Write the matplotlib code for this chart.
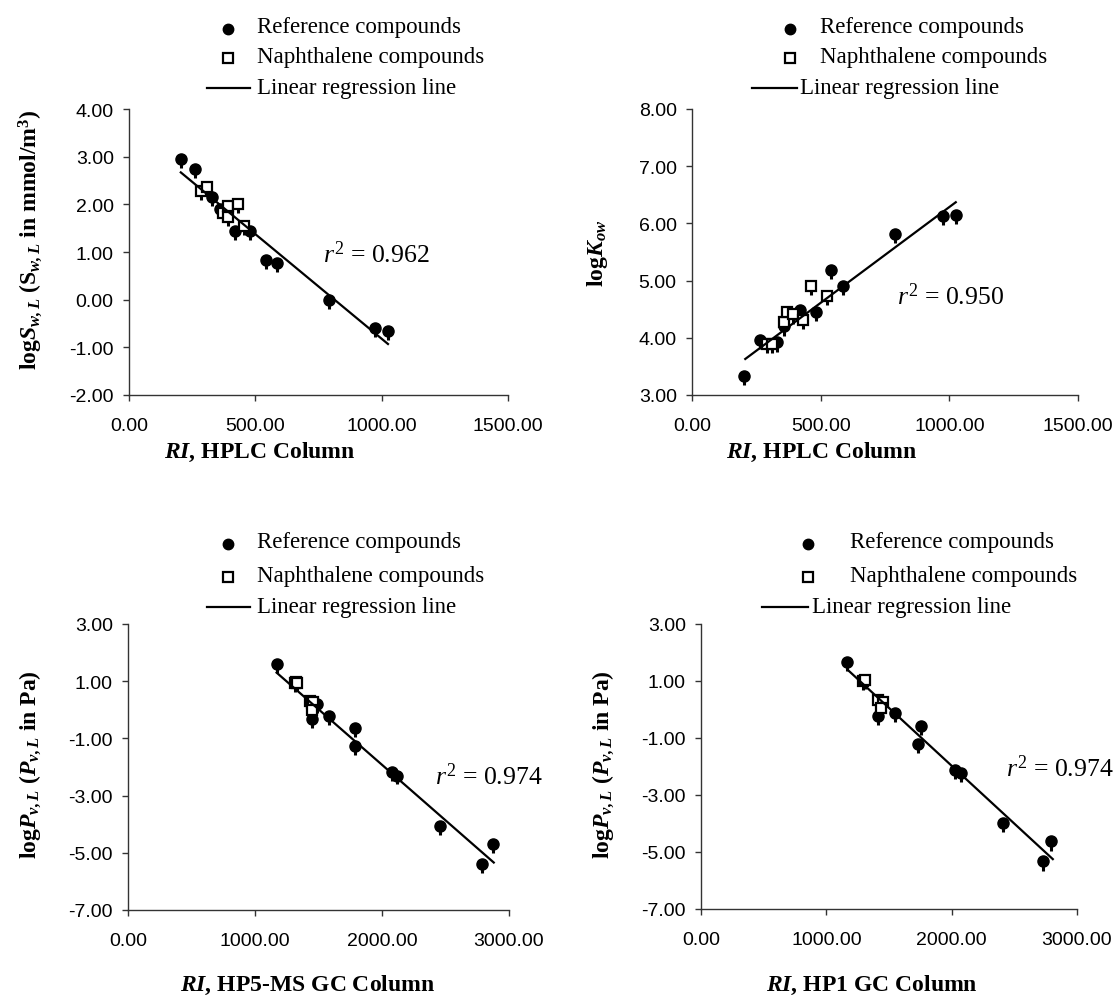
import matplotlib
matplotlib.use("Agg")
import matplotlib.pyplot as plt
from matplotlib.lines import Line2D
import numpy as np

plt.rcParams['font.family'] = ['Liberation Sans', 'DejaVu Sans']
plt.rcParams['mathtext.fontset'] = 'custom'
plt.rcParams['mathtext.rm'] = 'Liberation Serif'
plt.rcParams['mathtext.it'] = 'Liberation Serif:italic'
plt.rcParams['mathtext.bf'] = 'Liberation Serif:bold'
try:
    plt.rcParams['mathtext.bfit'] = 'Liberation Serif:italic:bold'
except KeyError:
    pass

# ---------------- data ----------------
# HPLC retention index (reference compounds)
ri_hplc_ref = [204, 263, 330, 359, 418, 480, 541, 585, 790, 975, 1025]
log_sw_ref = [2.95, 2.75, 2.15, 1.90, 1.45, 1.45, 0.84, 0.77, 0.00, -0.60, -0.65]
log_kow_ref = [3.33, 3.96, 3.92, 4.20, 4.49, 4.45, 5.19, 4.91, 5.81, 6.13, 6.15]
# naphthalene compounds
ri_hplc_nap_sw = [286, 307, 374, 390, 390, 430, 456]
log_sw_nap = [2.28, 2.36, 1.82, 1.97, 1.73, 2.00, 1.54]
ri_hplc_nap_kow = [291, 311, 356, 369, 392, 431, 462, 524]
log_kow_nap = [3.89, 3.89, 4.28, 4.45, 4.41, 4.31, 4.91, 4.73]

# GC retention indices, vapour pressure
ri_hp5_ref = [1170, 1485, 1450, 1579, 1786, 1786, 2075, 2119, 2455, 2874, 2790]
log_pv_hp5_ref = [1.60, 0.21, -0.32, -0.23, -0.63, -1.28, -2.18, -2.30, -4.06, -4.68, -5.40]
ri_hp5_nap = [1315, 1325, 1330, 1435, 1445, 1455, 1450]
log_pv_hp5_nap = [0.92, 0.98, 0.95, 0.30, 0.25, 0.28, 0.00]

ri_hp1_ref = [1163, 1440, 1415, 1548, 1756, 1734, 2025, 2073, 2408, 2791, 2727]
log_pv_hp1_ref = [1.68, 0.25, -0.24, -0.13, -0.57, -1.21, -2.11, -2.24, -3.98, -4.63, -5.33]
ri_hp1_nap = [1295, 1310, 1415, 1450, 1434]
log_pv_hp1_nap = [1.01, 1.05, 0.34, 0.27, 0.05]

# lower error-bar lengths (per panel)
err_sw = 0.19
err_kow = 0.16
err_hp5 = 0.31
err_hp1 = 0.32

# regression lines (end points)
fit_x_sw, fit_y_sw = [205, 1025], [2.67, -0.93]
fit_x_kow, fit_y_kow = [207, 1025], [3.63, 6.37]
fit_x_hp5, fit_y_hp5 = [1170, 2880], [1.30, -5.34]
fit_x_hp1, fit_y_hp1 = [1171, 2807], [1.39, -5.25]

r2_labels = ["0.962", "0.950", "0.974", "0.974"]

xticks_hplc = [0, 500, 1000, 1500]
xticks_gc = [0, 1000, 2000, 3000]
yticks_sw = [-2, -1, 0, 1, 2, 3, 4]
yticks_kow = [3, 4, 5, 6, 7, 8]
yticks_pv = [-7, -5, -3, -1, 1, 3]

legend_labels = ["Reference compounds", "Naphthalene compounds", "Linear regression line"]

# ---------------- layout ----------------
W, H = 1120, 1004
fig = plt.figure(figsize=(W / 100, H / 100), dpi=100)


def fx(x):
    return x / W


def fy(y):
    return 1 - y / H


def add_axes(x0, y0, x1, y1):
    return fig.add_axes([fx(x0), fy(y1), fx(x1) - fx(x0), fy(y0) - fy(y1)])


SERIF = ['Liberation Serif', 'DejaVu Serif']


def style(ax, xt, yt):
    ax.set_xlim(xt[0], xt[-1])
    ax.set_ylim(yt[0], yt[-1])
    ax.set_xticks(xt)
    ax.set_yticks(yt)
    ax.set_xticklabels(["%.2f" % v for v in xt])
    ax.set_yticklabels(["%.2f" % v for v in yt])
    for s in ['top', 'right']:
        ax.spines[s].set_visible(False)
    for s in ['left', 'bottom']:
        ax.spines[s].set_color('#333333')
        ax.spines[s].set_linewidth(1.0)
    ax.tick_params(axis='both', direction='out', length=4, width=1.0,
                   color='#333333', labelsize=14, labelcolor='black')
    ax.tick_params(axis='y', pad=7)
    ax.tick_params(axis='x', pad=12)
    ax.patch.set_alpha(0)


def draw(ax, xr, yr, xn, yn, err, fx_, fy_):
    ax.errorbar(xr, yr, yerr=[[err] * len(xr), [0] * len(xr)], fmt='o',
                color='black', ms=8, elinewidth=2.2, capsize=0, zorder=3)
    ax.errorbar(xn, yn, yerr=[[err] * len(xn), [0] * len(xn)], fmt='s',
                color='black', mfc='white', mec='black', ms=7.5, mew=1.6,
                elinewidth=2.2, capsize=0, zorder=4)
    ax.plot(fx_, fy_, color='black', lw=1.6, zorder=5)


def legend(xm, xt, xl0, xl1, xt3, baselines):
    b1, b2, b3 = baselines
    fig.add_artist(Line2D([fx(xm)], [fy(b1 - 3)], marker='o', ms=7.5,
                          color='black', transform=fig.transFigure))
    fig.add_artist(Line2D([fx(xm)], [fy(b2 - 4)], marker='s', ms=6.5, mfc='white',
                          mec='black', mew=1.6, transform=fig.transFigure))
    fig.add_artist(Line2D([fx(xl0), fx(xl1)], [fy(b3 - 5), fy(b3 - 5)],
                          color='black', lw=1.6, transform=fig.transFigure))
    fig.text(fx(xt), fy(b1), legend_labels[0], family=SERIF, fontsize=16.5, va='baseline')
    fig.text(fx(xt), fy(b2), legend_labels[1], family=SERIF, fontsize=16.5, va='baseline')
    fig.text(fx(xt3), fy(b3), legend_labels[2], family=SERIF, fontsize=16.5, va='baseline')


def r2(x, y, s):
    fig.text(fx(x), fy(y), r'$r^{2}$ = ' + s, family=SERIF, fontsize=18.5, va='baseline')


# top-left
ax1 = add_axes(129, 110, 508, 396)
style(ax1, xticks_hplc, yticks_sw)
draw(ax1, ri_hplc_ref, log_sw_ref, ri_hplc_nap_sw, log_sw_nap, err_sw, fit_x_sw, fit_y_sw)
# top-right
ax2 = add_axes(692, 110, 1078, 396)
style(ax2, xticks_hplc, yticks_kow)
draw(ax2, ri_hplc_ref, log_kow_ref, ri_hplc_nap_kow, log_kow_nap, err_kow, fit_x_kow, fit_y_kow)
# bottom-left
ax3 = add_axes(128, 625, 509, 911)
style(ax3, xticks_gc, yticks_pv)
draw(ax3, ri_hp5_ref, log_pv_hp5_ref, ri_hp5_nap, log_pv_hp5_nap, err_hp5, fit_x_hp5, fit_y_hp5)
# bottom-right
ax4 = add_axes(701, 625, 1077, 910)
style(ax4, xticks_gc, yticks_pv)
draw(ax4, ri_hp1_ref, log_pv_hp1_ref, ri_hp1_nap, log_pv_hp1_nap, err_hp1, fit_x_hp1, fit_y_hp1)

# legends
legend(228, 257, 207, 250, 257, (33, 63, 94))
legend(790, 820, 752, 797, 800, (33, 63, 94))
legend(228, 257, 207, 250, 257, (548, 582, 613))
legend(808, 850, 762, 808, 812, (548, 582, 613))

# r^2 annotations
r2(323, 263, r2_labels[0])
r2(897, 305, r2_labels[1])
r2(435, 785, r2_labels[2])
r2(1006, 777, r2_labels[3])

# axis labels
lab = dict(family=SERIF, fontsize=17, fontweight='bold')
fig.text(fx(30), fy(240), r'log$\mathbfit{S}_{\mathbfit{w,L}}$ (S$_{\mathbfit{w,L}}$ in mmol/m$^{\mathbf{3}}$)',
         rotation=90, ha='center', va='center', **lab)
fig.text(fx(598), fy(253), r'log$\mathbfit{K}_{\mathbfit{ow}}$',
         rotation=90, ha='center', va='center', **lab)
fig.text(fx(30), fy(765), r'log$\mathbfit{P}_{\mathbfit{v,L}}$ ($\mathbfit{P}_{\mathbfit{v,L}}$ in Pa)',
         rotation=90, ha='center', va='center', **lab)
fig.text(fx(603), fy(765), r'log$\mathbfit{P}_{\mathbfit{v,L}}$ ($\mathbfit{P}_{\mathbfit{v,L}}$ in Pa)',
         rotation=90, ha='center', va='center', **lab)

fig.text(fx(260), fy(452), r'$\mathbfit{RI}$, HPLC Column', ha='center', va='center', **lab)
fig.text(fx(822), fy(452), r'$\mathbfit{RI}$, HPLC Column', ha='center', va='center', **lab)
fig.text(fx(308), fy(985), r'$\mathbfit{RI}$, HP5-MS GC Column', ha='center', va='center', **lab)
fig.text(fx(872), fy(985), r'$\mathbfit{RI}$, HP1 GC Column', ha='center', va='center', **lab)

fig.savefig("out.png", dpi=100)
